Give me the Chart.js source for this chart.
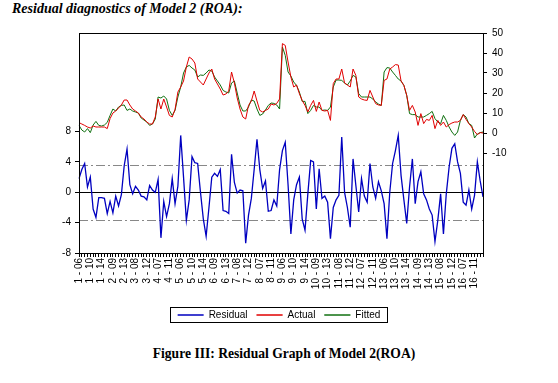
<!DOCTYPE html>
<html lang="en">
<head>
<meta charset="UTF-8">
<title>Residual Graph of Model 2 (ROA)</title>
<style>
    body {
        margin: 0;
        width: 558px;
        height: 383px;
        background: #fff;
        position: relative;
        overflow: hidden;
        font-family: 'Liberation Serif', 'Times New Roman', serif;
        color: #000;
    }
    .heading {
        position: absolute;
        left: 12px;
        top: 1px;
        font-size: 14px;
        font-weight: bold;
        font-style: italic;
    }
    .wrap {
        position: absolute;
        left: 0;
        top: 0;
        width: 558px;
        height: 334px;
    }
    .caption {
        position: absolute;
        left: 5px;
        width: 558px;
        top: 346px;
        text-align: center;
        font-size: 13.6px;
        font-weight: bold;
    }
</style>
</head>
<body>
<div class="heading">Residual diagnostics of Model 2 (ROA):</div>
<div class="wrap"><canvas id="chart"></canvas></div>
<div class="caption">Figure III: Residual Graph of Model 2(ROA)</div>

<script src="https://cdn.jsdelivr.net/npm/chart.js"></script>
<script>
    // cross-sections and periods of the panel (id - year)
    const sections = [1, 2, 3, 4, 5, 6, 7, 8, 9, 10, 11, 12, 13, 14, 15, 16];
    const periods = ['06', '07', '08', '09', '10', '11', '12', '13', '14'];
    const labelEvery = 4;

    const residual = [
        1.8, 3.0, 3.8, 0.7, 2.0, -2.2, -3.3, -0.7, -0.7, -0.8,
        -2.8, -1.2, -2.7, -0.5, -1.8, -0.3, 3.5, 5.7, 1.0, -0.2,
        0.8, 0.3, -0.5, -0.6, -1.0, 0.9, 0.3, 0.0, 1.7, -6.0,
        -1.2, -3.2, -1.5, 1.8, -1.5, 0.8, 7.5, 2.0, -3.7, -1.0,
        4.7, 3.9, 3.8, 0.0, -3.5, -5.8, -2.0, 2.0, 2.5, 2.1,
        3.0, -2.4, -2.5, -2.8, 5.0, 1.3, -0.1, 0.3, 0.2, -6.7,
        -3.0, -0.8, 3.0, 7.0, 3.0, 0.5, 1.5, -2.5, -2.4, -1.0,
        -1.8, 3.0, 5.5, 6.6, 1.0, -5.5, -1.0, 1.0, 2.0, -3.5,
        -5.0, -0.2, 4.2, 4.0, -2.2, 3.1, -0.8, -0.5, -1.3, -6.1,
        -2.0, -1.0, -0.4, 7.3, 0.0, -2.0, -4.6, 4.4, 0.9, -2.6,
        1.8, -0.5, -1.3, 3.8, 0.7, -0.8, 1.4, 0.2, -1.5, -6.1,
        0.0, 3.8, 5.5, 7.5, 2.2, -1.0, -4.1, 0.7, 4.4, -1.5,
        1.4, 2.7, -0.2, -1.0, -2.2, -3.0, -6.5, -3.7, -0.2, -5.5,
        -0.2, 3.3, 5.8, 6.4, 4.0, 2.5, -1.3, -1.7, 0.3, -2.2,
        -0.4, 4.0, 1.5, -0.6
    ];

    const actual = [
        5.2, 4.5, 3.8, 3.0, 2.5, 3.5, 3.0, 3.0, 3.0, 3.0,
        2.2, 7.2, 10.0, 11.0, 12.5, 14.0, 16.5, 16.5, 14.0, 12.0,
        11.0, 10.0, 8.0, 7.0, 5.5, 4.5, 4.5, 8.0, 17.0, 12.0,
        17.0, 13.0, 8.8, 8.0, 11.8, 20.5, 23.0, 26.0, 33.0, 38.0,
        37.0, 35.0, 27.0, 25.5, 24.0, 27.0, 30.0, 32.0, 27.0, 24.5,
        22.0, 19.0, 19.5, 21.0, 30.5, 25.0, 17.5, 12.0, 8.0, 7.0,
        13.8, 16.0, 21.0, 16.0, 11.3, 10.5, 11.3, 12.0, 14.5, 14.0,
        14.8, 17.0, 44.7, 43.8, 35.5, 28.0, 23.0, 24.0, 19.7, 16.3,
        13.8, 10.5, 13.8, 16.3, 10.8, 15.5, 11.3, 11.0, 11.3, 6.3,
        24.7, 27.0, 27.0, 32.0, 25.0, 24.0, 23.0, 32.0, 28.8, 18.0,
        17.0, 16.5, 16.3, 21.3, 18.0, 14.7, 14.0, 13.8, 26.3, 27.0,
        32.0, 33.0, 34.2, 34.0, 26.0, 23.8, 18.8, 11.3, 13.8, 10.5,
        3.8, 9.7, 4.7, 6.8, 6.3, 8.8, 2.2, 6.3, 3.8, 5.5,
        3.0, 4.2, 5.0, 5.5, 5.5, 6.3, 9.2, 6.8, 4.7, 3.0,
        0.8, -0.8, 0.2, 0.0
    ];

    const fitted = [
        3.8, 1.5, 0.5, 2.2, 0.2, 4.0, 5.8, 3.8, 3.5, 4.0,
        5.3, 8.8, 12.0, 11.0, 13.0, 13.8, 14.0, 11.3, 12.0, 11.0,
        10.5, 10.0, 7.5, 6.5, 5.5, 3.8, 4.5, 7.0, 18.0, 17.5,
        18.5, 17.0, 11.3, 8.8, 11.3, 18.0, 23.0, 30.0, 33.0, 33.8,
        32.5, 31.5, 28.0, 29.0, 28.8, 30.0, 31.5, 31.0, 28.0, 26.0,
        24.0, 21.3, 20.5, 20.0, 25.0, 26.0, 20.0, 14.0, 11.0, 11.0,
        13.0, 16.5, 16.0, 12.0, 8.8, 9.5, 11.5, 13.8, 15.0, 14.8,
        14.0, 12.0, 43.0, 38.8, 30.5, 28.5, 25.5, 23.8, 20.5, 15.8,
        15.8, 9.7, 11.3, 13.8, 13.0, 13.0, 11.3, 11.5, 11.3, 13.0,
        23.0, 26.5, 26.5, 26.3, 25.0, 24.0, 26.0, 28.8, 28.0, 19.7,
        18.0, 18.0, 18.0, 18.0, 17.0, 15.5, 14.5, 13.8, 30.5, 32.7,
        32.5, 30.5, 28.8, 27.0, 26.0, 23.8, 18.8, 9.7, 9.2, 9.2,
        8.0, 8.0, 8.0, 8.8, 9.7, 10.8, 7.2, 5.5, 4.7, 8.8,
        6.3, 3.0, 0.5, -1.2, 0.5, 6.3, 9.2, 8.0, 4.7, 3.8,
        -2.5, -0.5, 0.2, 0.5
    ];

    // +/- one standard error band for the residual
    const bandLevels = [3.6, -3.6];

    const labels = [];
    sections.forEach(s => periods.forEach(p => labels.push(s + ' - ' + p)));

    const tickFont = { family: "'Liberation Sans', Arial, sans-serif", size: 10 };

    const framePlugin = {
        id: 'frame',
        beforeDatasetsDraw(c) {
            const ctx = c.ctx, a = c.chartArea, yL = c.scales.yL;
            ctx.save();
            ctx.lineWidth = 1;
            ctx.strokeStyle = '#888';
            ctx.setLineDash([9, 3, 2, 3]);
            bandLevels.forEach(v => {
                const y = Math.round(yL.getPixelForValue(v)) + 0.5;
                ctx.beginPath();
                ctx.moveTo(a.left, y);
                ctx.lineTo(a.right, y);
                ctx.stroke();
            });
            ctx.setLineDash([]);
            ctx.strokeStyle = '#000';
            const y0 = Math.round(yL.getPixelForValue(0)) + 0.5;
            ctx.beginPath();
            ctx.moveTo(a.left, y0);
            ctx.lineTo(a.right, y0);
            ctx.stroke();
            ctx.restore();
        },
        afterDraw(c) {
            const ctx = c.ctx, a = c.chartArea;
            ctx.save();
            ctx.strokeStyle = '#000';
            ctx.lineWidth = 1;
            ctx.strokeRect(Math.round(a.left) + 0.5, Math.round(a.top) + 0.5,
                Math.round(a.right - a.left), Math.round(a.bottom - a.top));
            // box round the legend
            const boxes = c.legend.legendHitBoxes;
            if (boxes && boxes.length) {
                let l = Infinity, r = -Infinity, t = Infinity, b = -Infinity;
                boxes.forEach(h => {
                    l = Math.min(l, h.left);
                    r = Math.max(r, h.left + h.width);
                    t = Math.min(t, h.top);
                    b = Math.max(b, h.top + h.height);
                });
                ctx.strokeRect(Math.round(l - 8) + 0.5, Math.round(t - 3) + 0.5,
                    Math.round(r - l + 14), Math.round(b - t + 5));
            }
            ctx.restore();
        }
    };

    const ctx = document.getElementById('chart').getContext('2d');
    new Chart(ctx, {
        type: 'line',
        data: {
            labels: labels,
            datasets: [
                { label: 'Residual', data: residual, yAxisID: 'yL',
                  borderColor: '#0000c0', backgroundColor: '#0000c0', borderWidth: 1.3 },
                { label: 'Actual', data: actual, yAxisID: 'yR',
                  borderColor: '#e00000', backgroundColor: '#e00000', borderWidth: 1 },
                { label: 'Fitted', data: fitted, yAxisID: 'yR',
                  borderColor: '#107010', backgroundColor: '#107010', borderWidth: 1 }
            ]
        },
        options: {
            responsive: true,
            maintainAspectRatio: false,
            animation: false,
            layout: { padding: { top: 33, left: 0, right: 0, bottom: 4 } },
            elements: { point: { radius: 0 }, line: { tension: 0 } },
            plugins: {
                tooltip: { enabled: false },
                legend: {
                    position: 'bottom',
                    labels: {
                        boxWidth: 26,
                        boxHeight: 0,
                        padding: 9,
                        color: '#000',
                        font: tickFont
                    }
                }
            },
            scales: {
                x: {
                    grid: { drawOnChartArea: false, tickLength: 4, color: '#000' },
                    border: { color: '#000' },
                    ticks: {
                        autoSkip: false,
                        minRotation: 90,
                        maxRotation: 90,
                        padding: 1,
                        color: '#000',
                        font: tickFont,
                        callback: (v, i) => i % labelEvery === 0 ? labels[i] : ''
                    },
                    afterFit: s => { s.height = 48; }
                },
                yL: {
                    position: 'left',
                    min: -8,
                    max: 21,
                    grid: { drawOnChartArea: false, tickLength: 4, color: '#000' },
                    border: { color: '#000' },
                    ticks: { stepSize: 4, padding: 4, color: '#000', font: tickFont },
                    afterBuildTicks: s => { s.ticks = s.ticks.filter(t => t.value >= -8 && t.value <= 8); },
                    afterFit: s => { s.width = 79; }
                },
                yR: {
                    position: 'right',
                    min: -60,
                    max: 50,
                    grid: { drawOnChartArea: false, tickLength: 4, color: '#000' },
                    border: { color: '#000' },
                    ticks: { stepSize: 10, padding: 5, color: '#000', font: tickFont },
                    afterBuildTicks: s => { s.ticks = s.ticks.filter(t => t.value >= -10 && t.value <= 50); },
                    afterFit: s => { s.width = 75; }
                }
            }
        },
        plugins: [framePlugin]
    });
</script>
</body>
</html>
